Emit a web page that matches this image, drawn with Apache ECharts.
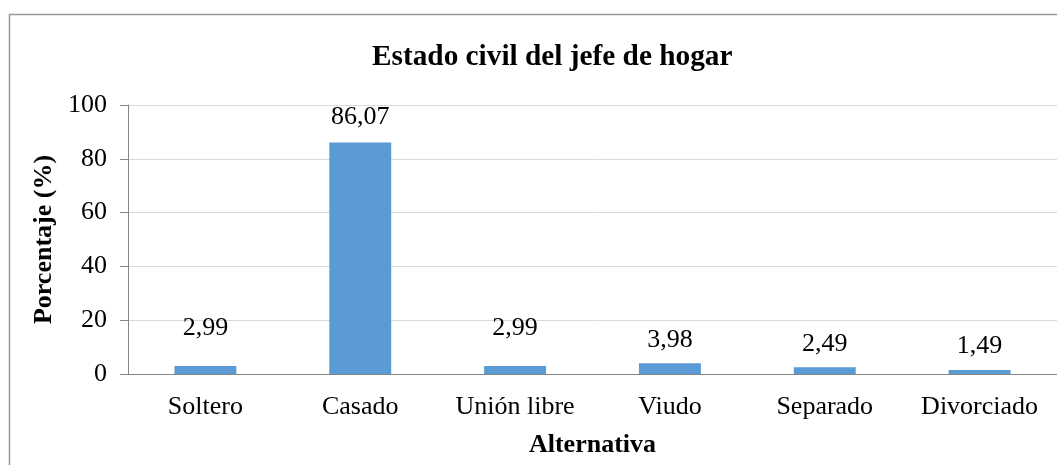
<!DOCTYPE html>
<html>
<head>
<meta charset="utf-8">
<script src="https://cdn.jsdelivr.net/npm/echarts@6/dist/echarts.min.js"></script>
<style>
html,body{margin:0;padding:0;background:#fff;}
#chart{width:1057px;height:465px;}
</style>
</head>
<body>
<div id="chart"></div>
<script>
const categories = ['Soltero', 'Casado', 'Unión libre', 'Viudo', 'Separado', 'Divorciado'];
const values = [2.99, 86.07, 2.99, 3.98, 2.49, 1.49];
const labelDistances = [25, 12, 25, 10, 10, 11];
const yTicks = [0, 20, 40, 60, 80, 100];

const FONT = "'Liberation Serif', 'Times New Roman', serif";
const chart = echarts.init(document.getElementById('chart'), null, {renderer: 'canvas'});

chart.setOption({
  animation: false,
  backgroundColor: '#ffffff',
  title: {
    text: 'Estado civil del jefe de hogar',
    left: 372, top: 43, padding: 0,
    textStyle: {fontFamily: FONT, fontSize: 29.3, fontWeight: 'bold', color: '#000'}
  },
  graphic: [{
    type: 'rect', silent: true,
    shape: {x: 9.5, y: 14.5, width: 1100, height: 500},
    style: {fill: 'none', stroke: '#999999', lineWidth: 1.5}
  }],
  grid: {left: 128, right: -7, top: 105, bottom: 91, containLabel: false},
  xAxis: {
    type: 'category',
    data: categories,
    name: 'Alternativa',
    nameLocation: 'middle',
    nameGap: 58,
    nameTextStyle: {fontFamily: FONT, fontSize: 26, fontWeight: 'bold', color: '#000'},
    axisLine: {lineStyle: {color: '#868686', width: 1}},
    axisTick: {show: false},
    axisLabel: {fontFamily: FONT, fontSize: 26, color: '#000', margin: 20, interval: 0}
  },
  yAxis: {
    type: 'value',
    min: yTicks[0], max: yTicks[yTicks.length - 1], interval: 20,
    name: 'Porcentaje (%)',
    nameLocation: 'middle',
    nameGap: 70,
    nameRotate: 90,
    nameTextStyle: {fontFamily: FONT, fontSize: 26, fontWeight: 'bold', color: '#000'},
    axisLine: {show: true, lineStyle: {color: '#868686', width: 1}},
    axisTick: {show: true, length: 8, inside: false, lineStyle: {color: '#868686'}},
    axisLabel: {fontFamily: FONT, fontSize: 26, color: '#000', margin: 21},
    splitLine: {lineStyle: {color: '#d9d9d9', width: 1}}
  },
  series: [{
    type: 'bar',
    barWidth: '40%',
    data: values.map((v, i) => ({
      value: v,
      label: {distance: labelDistances[i]}
    })),
    itemStyle: {color: '#5b9bd5'},
    label: {
      show: true,
      position: 'top',
      fontFamily: FONT, fontSize: 26, color: '#000',
      formatter: p => p.value.toFixed(2).replace('.', ',')
    }
  }]
});
</script>
</body>
</html>
